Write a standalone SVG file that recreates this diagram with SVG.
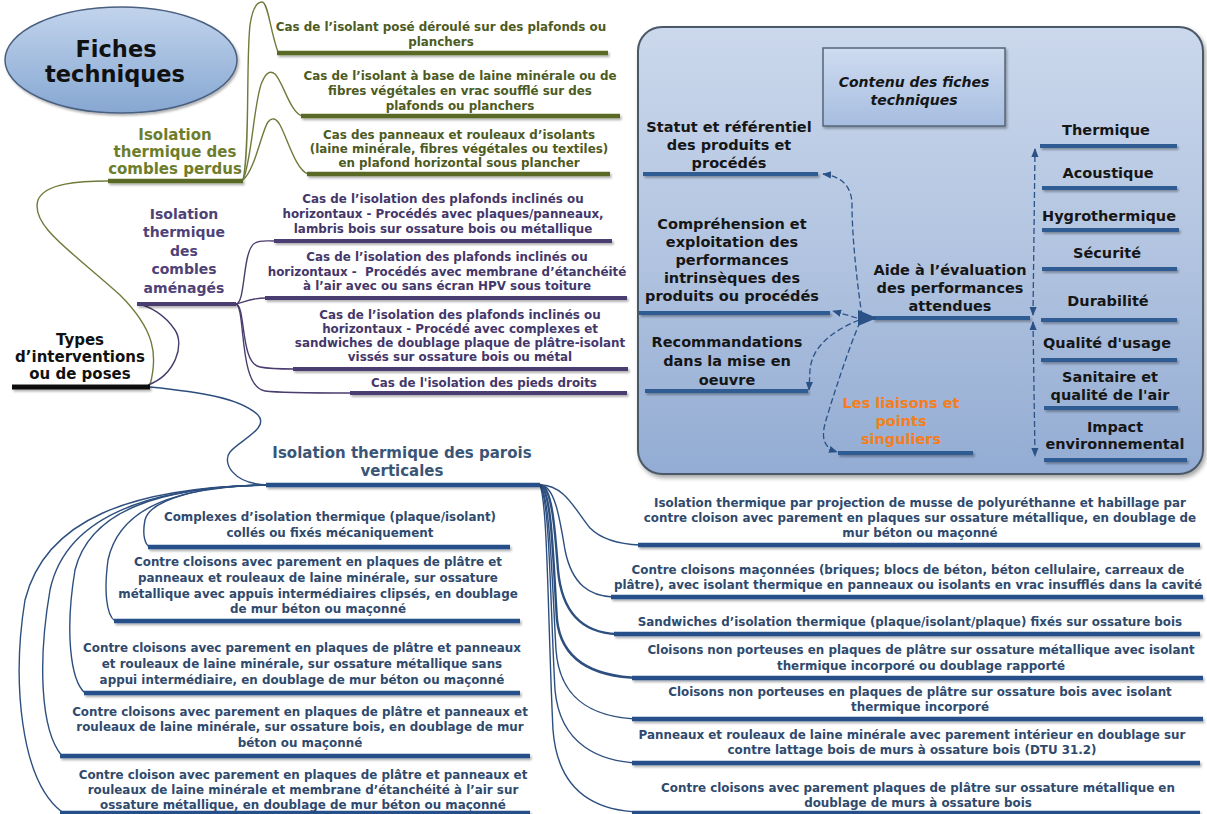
<svg xmlns="http://www.w3.org/2000/svg" width="1207" height="814" viewBox="0 0 1207 814">
<defs>
<linearGradient id="gEll" x1="0" y1="0" x2="0" y2="1"><stop offset="0" stop-color="#c2d4ec"/><stop offset="1" stop-color="#86a7d2"/></linearGradient>
<linearGradient id="gPanel" x1="0" y1="0" x2="0" y2="1"><stop offset="0" stop-color="#cbd8ec"/><stop offset="0.5" stop-color="#b2c4e0"/><stop offset="1" stop-color="#93acd3"/></linearGradient>
<linearGradient id="gBox" x1="0" y1="0" x2="0" y2="1"><stop offset="0" stop-color="#cfdcf0"/><stop offset="1" stop-color="#a6bde0"/></linearGradient>
<filter id="sh" filterUnits="userSpaceOnUse" x="0" y="0" width="1207" height="814"><feDropShadow dx="1.5" dy="2" stdDeviation="1.2" flood-color="#000" flood-opacity="0.3"/></filter>
<filter id="shb" filterUnits="userSpaceOnUse" x="0" y="0" width="1207" height="814"><feDropShadow dx="2" dy="3" stdDeviation="2" flood-color="#000" flood-opacity="0.35"/></filter>
<marker id="ah" viewBox="0 0 10 10" refX="9" refY="5" markerUnits="userSpaceOnUse" markerWidth="9" markerHeight="9" orient="auto-start-reverse"><path d="M0,1 L10,5 L0,9 z" fill="#2a5287"/></marker>
</defs>
<style>
text{font-family:"DejaVu Sans",Verdana,sans-serif;font-weight:bold;text-anchor:middle}
.s{font-size:11.9px}
.h{font-size:15px}
.p{font-size:14.5px;fill:#161616}
.gt{fill:#4d5b1f}.gh{fill:#6d7d2c}
.pt{fill:#44376a}.ph{fill:#4f4277}
.bt{fill:#2f4a6d}.bh{fill:#3a5576}
.or{fill:#f47e20}
.lg{stroke:#5a6b26;stroke-width:4.5}
.lp{stroke:#4a3c72;stroke-width:4}
.lb{stroke:#26508a;stroke-width:4.5}
.lk{stroke:#111;stroke-width:5}
.ln{stroke:#2f5b93;stroke-width:4}
.cg{stroke:#6e7b3a;stroke-width:1.4;fill:none}
.cp{stroke:#4a3c6e;stroke-width:1.4;fill:none}
.cb{stroke:#2d4f7f;stroke-width:1.4;fill:none}
.cbt{stroke:#2d4f7f;stroke-width:2.4;fill:none}
.d{stroke:#2a5287;stroke-width:1.3;stroke-dasharray:6 3;fill:none}
</style>
<rect width="1207" height="814" fill="#ffffff"/>

<g id="panel">
<rect x="638" y="27" width="565" height="447" rx="24" fill="url(#gPanel)" stroke="#4b5868" stroke-width="2" filter="url(#shb)"/>
</g>

<g id="connectors">
<path class="cg" d="M150,385 C158,355 155,330 120,295 C70,250 30,225 38,200 C45,183 80,181 108,181"/>
<path class="cg" d="M243,180 C250,150 246,60 250,25 C253,5 258,2 262,2 C268,2 270,30 278,52"/>
<path class="cg" d="M243,180 C252,160 254,100 262,82 C266,73 270,70 275,74 C283,82 290,112 302,116"/>
<path class="cg" d="M243,180 C255,170 262,130 268,122 C272,117 276,118 280,125 C288,140 296,170 308,174"/>
<path class="cp" d="M148,385 C175,375 185,345 175,330 C165,315 150,306 137,304"/>
<path class="cp" d="M236,304 C246,303 242,250 255,243 C260,240 265,241 275,241"/>
<path class="cp" d="M236,304 C245,302 250,298 266,298"/>
<path class="cp" d="M236,304 C246,306 240,364 260,367 C270,369 280,369 294,369"/>
<path class="cp" d="M236,304 C246,308 238,387 265,391 C280,393 320,393 350,393"/>
<path class="cb" d="M150,387 C200,392 240,398 258,415 C270,428 240,440 230,452 C222,462 232,484 268,485"/>
<path class="cb" d="M268,485 C200,485 150,500 145,520 C142,535 145,545 150,547"/>
<path class="cb" d="M268,485 C180,487 120,505 108,560 C104,590 106,615 115,621"/>
<path class="cb" d="M268,485 C160,487 90,510 75,570 C65,630 70,680 85,693"/>
<path class="cb" d="M268,485 C140,487 65,520 50,590 C38,660 40,730 62,756"/>
<path class="cb" d="M268,485 C130,487 45,520 25,600 C12,680 20,780 62,812"/>
<path class="cb" d="M540,485 C565,485 575,510 590,528 C600,538 615,544 640,545"/>
<path class="cb" d="M540,485 C555,485 560,520 565,550 C572,585 590,596 613,597"/>
<path class="cbt" d="M540,485 C552,485 555,530 558,570 C562,615 585,633 617,634"/>
<path class="cbt" d="M540,485 C552,490 553,560 557,620 C562,665 600,677 640,678"/>
<path class="cb" d="M540,485 C550,495 552,580 556,650 C560,705 600,718 640,719"/>
<path class="cb" d="M540,485 C550,500 550,600 555,690 C560,745 600,762 640,763"/>
<path class="cb" d="M540,485 C548,505 548,630 553,730 C558,795 600,811 640,812"/>
<path class="d" marker-end="url(#ah)" d="M862,316 C858,290 852,240 852,205 C852,185 840,176 823,174"/>
<path class="d" marker-end="url(#ah)" d="M857,318 L833,311"/>
<path class="d" marker-end="url(#ah)" d="M859,320 C835,330 812,345 810,370 L809,390"/>
<path class="d" marker-end="url(#ah)" d="M860,322 C850,345 835,390 826,420 C820,440 825,448 837,452"/>
<path class="d" marker-start="url(#ah)" marker-end="url(#ah)" d="M1033,315 L1035,149"/>
<path class="d" marker-start="url(#ah)" marker-end="url(#ah)" d="M1033,322 L1035,456"/>
</g>

<g id="n-fiches">
<ellipse cx="121" cy="60" rx="116" ry="53" fill="url(#gEll)" stroke="#4a6080" stroke-width="1.5" filter="url(#sh)"/>
<text x="116" y="57" style="font-size:22.5px" fill="#111">Fiches</text>
<text x="115" y="82" style="font-size:22.5px" fill="#111">techniques</text>
</g>

<g id="n-types">
<text class="h" x="80" y="345" fill="#111">Types</text>
<text class="h" x="80" y="362" fill="#111">d’interventions</text>
<text class="h" x="80" y="379" fill="#111">ou de poses</text>
<line class="lk" x1="12" y1="387" x2="150" y2="387" filter="url(#sh)"/>
</g>

<g id="n-perdus">
<text class="h gh" x="175" y="140">Isolation</text>
<text class="h gh" x="175" y="157">thermique des</text>
<text class="h gh" x="175" y="174">combles perdus</text>
<line class="lg" x1="108" y1="181" x2="243" y2="181" filter="url(#sh)"/>
</g>
<g id="n-perdus-1">
<text class="s gt" x="441" y="31">Cas de l’isolant posé déroulé sur des plafonds ou</text>
<text class="s gt" x="441" y="46">planchers</text>
<line class="lg" x1="277" y1="53" x2="608" y2="53" filter="url(#sh)"/>
</g>
<g id="n-perdus-2">
<text class="s gt" x="460" y="80">Cas de l’isolant à base de laine minérale ou de</text>
<text class="s gt" x="460" y="95">fibres végétales en vrac soufflé sur des</text>
<text class="s gt" x="460" y="110">plafonds ou planchers</text>
<line class="lg" x1="301" y1="116" x2="620" y2="116" filter="url(#sh)"/>
</g>
<g id="n-perdus-3">
<text class="s gt" x="459" y="139">Cas des panneaux et rouleaux d’isolants</text>
<text class="s gt" x="459" y="153">(laine minérale, fibres végétales ou textiles)</text>
<text class="s gt" x="459" y="167">en plafond horizontal sous plancher</text>
<line class="lg" x1="307" y1="174" x2="610" y2="174" filter="url(#sh)"/>
</g>

<g id="n-amenages">
<text class="ph" style="font-size:14px" x="184" y="219">Isolation</text>
<text class="ph" style="font-size:14px" x="184" y="237">thermique</text>
<text class="ph" style="font-size:14px" x="184" y="256">des</text>
<text class="ph" style="font-size:14px" x="184" y="274">combles</text>
<text class="ph" style="font-size:14px" x="184" y="293">aménagés</text>
<line class="lp" x1="137" y1="304" x2="236" y2="304" filter="url(#sh)"/>
</g>
<g id="n-amen-1">
<text class="s pt" x="443" y="203">Cas de l’isolation des plafonds inclinés ou</text>
<text class="s pt" x="443" y="218">horizontaux - Procédés avec plaques/panneaux,</text>
<text class="s pt" x="443" y="233">lambris bois sur ossature bois ou métallique</text>
<line class="lp" x1="274" y1="241" x2="612" y2="241" filter="url(#sh)"/>
</g>
<g id="n-amen-2">
<text class="s pt" x="447" y="261">Cas de l’isolation des plafonds inclinés ou</text>
<text class="s pt" x="447" y="276" xml:space="preserve">horizontaux -  Procédés avec membrane d’étanchéité</text>
<text class="s pt" x="447" y="290">à l’air avec ou sans écran HPV sous toiture</text>
<line class="lp" x1="265" y1="298" x2="627" y2="298" filter="url(#sh)"/>
</g>
<g id="n-amen-3">
<text class="s pt" x="460" y="319">Cas de l’isolation des plafonds inclinés ou</text>
<text class="s pt" x="460" y="333">horizontaux - Procédé avec complexes et</text>
<text class="s pt" x="460" y="347">sandwiches de doublage plaque de plâtre-isolant</text>
<text class="s pt" x="460" y="361">vissés sur ossature bois ou métal</text>
<line class="lp" x1="293" y1="369" x2="628" y2="369" filter="url(#sh)"/>
</g>
<g id="n-amen-4">
<text class="s pt" x="484" y="387">Cas de l'isolation des pieds droits</text>
<line class="lp" x1="350" y1="393" x2="627" y2="393" filter="url(#sh)"/>
</g>

<g id="n-parois">
<text class="h bh" x="402" y="458">Isolation thermique des parois</text>
<text class="h bh" x="402" y="476">verticales</text>
<line class="lb" x1="266" y1="485" x2="540" y2="485" filter="url(#sh)"/>
</g>
<g id="n-parois-l1">
<text class="s bt" x="330" y="521">Complexes d’isolation thermique (plaque/isolant)</text>
<text class="s bt" x="330" y="537">collés ou fixés mécaniquement</text>
<line class="lb" x1="148" y1="547" x2="510" y2="547" filter="url(#sh)"/>
</g>
<g id="n-parois-l2">
<text class="s bt" x="318" y="566">Contre cloisons avec parement en plaques de plâtre et</text>
<text class="s bt" x="318" y="582">panneaux et rouleaux de laine minérale, sur ossature</text>
<text class="s bt" x="318" y="598">métallique avec appuis intermédiaires clipsés, en doublage</text>
<text class="s bt" x="318" y="613">de mur béton ou maçonné</text>
<line class="lb" x1="114" y1="621" x2="520" y2="621" filter="url(#sh)"/>
</g>
<g id="n-parois-l3">
<text class="s bt" x="302" y="652">Contre cloisons avec parement en plaques de plâtre et panneaux</text>
<text class="s bt" x="302" y="668">et rouleaux de laine minérale, sur ossature métallique sans</text>
<text class="s bt" x="302" y="684">appui intermédiaire, en doublage de mur béton ou maçonné</text>
<line class="lb" x1="84" y1="693" x2="520" y2="693" filter="url(#sh)"/>
</g>
<g id="n-parois-l4">
<text class="s bt" x="300" y="716">Contre cloisons avec parement en plaques de plâtre et panneaux et</text>
<text class="s bt" x="300" y="731">rouleaux de laine minérale, sur ossature bois, en doublage de mur</text>
<text class="s bt" x="300" y="747">béton ou maçonné</text>
<line class="lb" x1="60" y1="756" x2="530" y2="756" filter="url(#sh)"/>
</g>
<g id="n-parois-l5">
<text class="s bt" x="303" y="779">Contre cloison avec parement en plaques de plâtre et panneaux et</text>
<text class="s bt" x="303" y="794">rouleaux de laine minérale et membrane d’étanchéité à l’air sur</text>
<text class="s bt" x="303" y="809">ossature métallique, en doublage de mur béton ou maçonné</text>
<line class="lb" x1="60" y1="813" x2="530" y2="813" filter="url(#sh)"/>
</g>
<g id="n-parois-r1">
<text class="s bt" x="920" y="507">Isolation thermique par projection de musse de polyuréthanne et habillage par</text>
<text class="s bt" x="920" y="522">contre cloison avec parement en plaques sur ossature métallique, en doublage de</text>
<text class="s bt" x="920" y="537">mur béton ou maçonné</text>
<line class="lb" x1="638" y1="545" x2="1200" y2="545" filter="url(#sh)"/>
</g>
<g id="n-parois-r2">
<text class="s bt" x="908" y="574">Contre cloisons maçonnées (briques; blocs de béton, béton cellulaire, carreaux de</text>
<text class="s bt" x="908" y="589">plâtre), avec isolant thermique en panneaux ou isolants en vrac insufflés dans la cavité</text>
<line class="lb" x1="611" y1="597" x2="1203" y2="597" filter="url(#sh)"/>
</g>
<g id="n-parois-r3">
<text class="s bt" x="910" y="626">Sandwiches d’isolation thermique (plaque/isolant/plaque) fixés sur ossature bois</text>
<line class="lb" x1="614" y1="634" x2="1200" y2="634" filter="url(#sh)"/>
</g>
<g id="n-parois-r4">
<text class="s bt" x="921" y="654">Cloisons non porteuses en plaques de plâtre sur ossature métallique avec isolant</text>
<text class="s bt" x="921" y="670">thermique incorporé ou doublage rapporté</text>
<line class="lb" x1="632" y1="678" x2="1203" y2="678" filter="url(#sh)"/>
</g>
<g id="n-parois-r5">
<text class="s bt" x="920" y="696">Cloisons non porteuses en plaques de plâtre sur ossature bois avec isolant</text>
<text class="s bt" x="920" y="711">thermique incorporé</text>
<line class="lb" x1="632" y1="719" x2="1203" y2="719" filter="url(#sh)"/>
</g>
<g id="n-parois-r6">
<text class="s bt" x="912" y="739">Panneaux et rouleaux de laine minérale avec parement intérieur en doublage sur</text>
<text class="s bt" x="912" y="754">contre lattage bois de murs à ossature bois (DTU 31.2)</text>
<line class="lb" x1="632" y1="763" x2="1200" y2="763" filter="url(#sh)"/>
</g>
<g id="n-parois-r7">
<text class="s bt" x="918" y="792">Contre cloisons avec parement plaques de plâtre sur ossature métallique en</text>
<text class="s bt" x="918" y="807">doublage de murs à ossature bois</text>
<line class="lb" x1="632" y1="813" x2="1200" y2="813" filter="url(#sh)"/>
</g>

<g id="n-contenu">
<rect x="823" y="48" width="182" height="78" fill="url(#gBox)" stroke="#55657a" stroke-width="1.5" filter="url(#sh)"/>
<text x="914" y="87" style="font-size:14px;font-style:italic" fill="#161616">Contenu des fiches</text>
<text x="914" y="105" style="font-size:14px;font-style:italic" fill="#161616">techniques</text>
</g>
<g id="n-statut">
<text class="p" x="729" y="132">Statut et référentiel</text>
<text class="p" x="729" y="150">des produits et</text>
<text class="p" x="729" y="168">procédés</text>
<line class="ln" x1="643" y1="174" x2="818" y2="174" filter="url(#sh)"/>
</g>
<g id="n-comprehension">
<text class="p" x="732" y="229">Compréhension et</text>
<text class="p" x="732" y="247">exploitation des</text>
<text class="p" x="732" y="265">performances</text>
<text class="p" x="732" y="283">intrinsèques des</text>
<text class="p" x="732" y="301">produits ou procédés</text>
<line class="ln" x1="639" y1="313" x2="830" y2="313" filter="url(#sh)"/>
</g>
<g id="n-recommandations">
<text class="p" x="727" y="347">Recommandations</text>
<text class="p" x="727" y="366">dans la mise en</text>
<text class="p" x="727" y="385">oeuvre</text>
<line class="ln" x1="645" y1="391" x2="808" y2="391" filter="url(#sh)"/>
</g>
<g id="n-liaisons">
<text class="p or" x="901" y="408">Les liaisons et</text>
<text class="p or" x="901" y="426">points</text>
<text class="p or" x="901" y="444">singuliers</text>
<line class="ln" x1="838" y1="453" x2="973" y2="453" filter="url(#sh)"/>
</g>
<g id="n-aide">
<text class="p" x="950" y="275">Aide à l’évaluation</text>
<text class="p" x="950" y="293">des performances</text>
<text class="p" x="950" y="311">attendues</text>
<line class="ln" x1="873" y1="318" x2="1030" y2="318" filter="url(#sh)"/>
<polygon points="858,310 877,318 858,326" fill="#2a5287"/>
</g>
<g id="n-thermique">
<text class="p" x="1106" y="135">Thermique</text>
<line class="ln" x1="1040" y1="146" x2="1177" y2="146" filter="url(#sh)"/>
</g>
<g id="n-acoustique">
<text class="p" x="1108" y="178">Acoustique</text>
<line class="ln" x1="1042" y1="188" x2="1177" y2="188" filter="url(#sh)"/>
</g>
<g id="n-hygro">
<text class="p" x="1109" y="221">Hygrothermique</text>
<line class="ln" x1="1042" y1="230" x2="1179" y2="230" filter="url(#sh)"/>
</g>
<g id="n-securite">
<text class="p" x="1107" y="258">Sécurité</text>
<line class="ln" x1="1042" y1="269" x2="1177" y2="269" filter="url(#sh)"/>
</g>
<g id="n-durabilite">
<text class="p" x="1108" y="306">Durabilité</text>
<line class="ln" x1="1041" y1="320" x2="1177" y2="320" filter="url(#sh)"/>
</g>
<g id="n-qualite">
<text class="p" x="1107" y="348">Qualité d'usage</text>
<line class="ln" x1="1041" y1="360" x2="1177" y2="360" filter="url(#sh)"/>
</g>
<g id="n-sanitaire">
<text class="p" x="1110" y="382">Sanitaire et</text>
<text class="p" x="1110" y="400">qualité de l'air</text>
<line class="ln" x1="1044" y1="408" x2="1178" y2="408" filter="url(#sh)"/>
</g>
<g id="n-impact">
<text class="p" x="1115" y="432">Impact</text>
<text class="p" x="1115" y="449">environnemental</text>
<line class="ln" x1="1044" y1="460" x2="1187" y2="460" filter="url(#sh)"/>
</g>
</svg>
